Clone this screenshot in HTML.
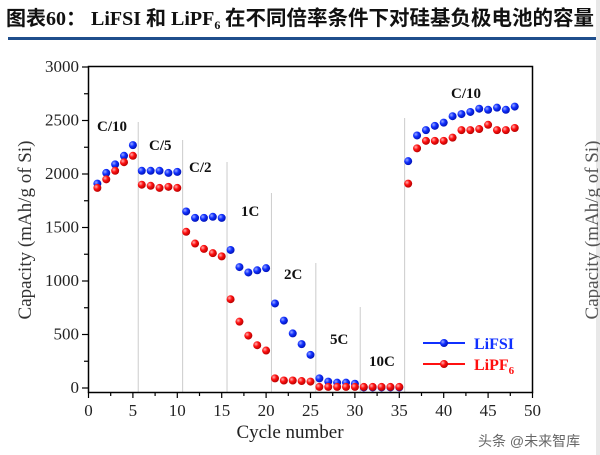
<!DOCTYPE html>
<html><head><meta charset="utf-8"><style>
html,body{margin:0;padding:0;background:#fff;width:600px;height:455px;overflow:hidden}
</style></head><body>
<svg id="s" width="600" height="455" viewBox="0 0 600 455" xmlns="http://www.w3.org/2000/svg" font-family="'Liberation Serif', serif">
<defs>
<radialGradient id="gb" cx="0.35" cy="0.35" r="0.7"><stop offset="0" stop-color="#9aa8ff"/><stop offset="0.45" stop-color="#1030ff"/><stop offset="1" stop-color="#0010b0"/></radialGradient>
<radialGradient id="gr" cx="0.35" cy="0.35" r="0.7"><stop offset="0" stop-color="#ffb0b0"/><stop offset="0.45" stop-color="#ff1010"/><stop offset="1" stop-color="#b00000"/></radialGradient>
</defs>
<text x="6" y="25" font-family="'Liberation Serif','Noto Sans CJK SC',sans-serif" font-size="20" font-weight="bold" fill="#111"><tspan font-family="'Noto Sans CJK SC',sans-serif" font-size="20">图表</tspan>60：  LiFSI 和 LiPF<tspan font-size="12" dy="4">6</tspan><tspan dy="-4" font-family="'Noto Sans CJK SC',sans-serif" font-size="20.5"> 在不同倍率条件下对硅基负极电池的容量</tspan></text>
<rect x="8" y="37" width="592" height="3" fill="#1f4e8c"/>
<rect x="596" y="0" width="4" height="455" fill="#e8e8e8"/>
<g id="plot"></g>
<rect x="88.5" y="66.5" width="444" height="326" fill="none" stroke="#000" stroke-width="1.5"/>
<g font-size="17" fill="#222" text-anchor="end" id="yl"></g>
<g font-size="17" fill="#222" text-anchor="middle" id="xl"></g>
<text x="290" y="438" font-size="19" text-anchor="middle" fill="#222">Cycle number</text>
<text transform="translate(31,230) rotate(-90)" font-size="19" text-anchor="middle" fill="#333">Capacity (mAh/g of Si)</text>
<text transform="translate(598,230) rotate(-90)" font-size="19" text-anchor="middle" fill="#555">Capacity (mAh/g of Si)</text>
<g font-size="15" font-weight="bold" fill="#111">
<text x="97" y="131">C/10</text><text x="149" y="150">C/5</text><text x="189" y="172">C/2</text>
<text x="241" y="216">1C</text><text x="284" y="279">2C</text><text x="330" y="344">5C</text>
<text x="369" y="366">10C</text><text x="451" y="98">C/10</text></g>
<line x1="423" y1="343" x2="465" y2="343" stroke="#1030ff" stroke-width="2"/>
<line x1="423" y1="364" x2="465" y2="364" stroke="#ff1010" stroke-width="2"/>
<circle cx="444" cy="343" r="4" fill="url(#gb)"/><circle cx="444" cy="364" r="4" fill="url(#gr)"/>
<text x="474" y="349" font-size="16" font-weight="bold" fill="#1030ff">LiFSI</text>
<text x="474" y="370" font-size="16" font-weight="bold" fill="#ff1010">LiPF<tspan font-size="11" dy="4">6</tspan></text>
<text x="478" y="446" font-family="'Liberation Sans','Noto Sans CJK SC',sans-serif" font-size="14" fill="#666">头条 @未来智库</text>
</svg>
<script>
const NS="http://www.w3.org/2000/svg";
const X=v=>88.5+v*8.88, Y=v=>388-v*0.107;
const p=document.getElementById('plot');
function el(t,a,par){const e=document.createElementNS(NS,t);for(const k in a)e.setAttribute(k,a[k]);(par||p).appendChild(e);return e;}
[[5.6,122],[10.6,140],[15.6,162],[20.6,193],[25.6,263],[30.6,307],[35.6,118]].forEach(([x,t])=>el('line',{x1:X(x),x2:X(x),y1:t,y2:392,stroke:'#ccc','stroke-width':1}));
for(let v=0;v<=3000;v+=250){const y=Y(v);el('line',{x1:88,x2:v%500?84:82,y1:y,y2:y,stroke:'#000','stroke-width':1.2});
 if(v%500==0){const t=el('text',{x:79,y:y+5},document.getElementById('yl'));t.textContent=v;}}
for(let v=0;v<=50;v+=2.5){const x=X(v);el('line',{x1:x,x2:x,y1:392,y2:v%5?396:398,stroke:'#000','stroke-width':1.2});
 if(v%5==0){const t=el('text',{x:x,y:416},document.getElementById('xl'));t.textContent=v;}}
const B=[1910,2010,2090,2170,2270,2030,2030,2030,2010,2020,1650,1590,1590,1600,1590,1290,1130,1080,1100,1120,790,630,510,410,310,90,60,50,50,40,5,5,5,5,5,2120,2360,2410,2450,2480,2540,2560,2580,2610,2600,2620,2600,2630];
const R=[1870,1950,2030,2110,2170,1900,1890,1870,1880,1870,1460,1350,1300,1260,1230,830,620,490,400,350,90,70,70,65,60,10,10,10,10,10,10,10,10,10,10,1910,2240,2310,2310,2310,2340,2410,2410,2420,2460,2410,2410,2430];
B.forEach((v,i)=>el('circle',{cx:X(i+1),cy:Y(v),r:4,fill:'url(#gb)'}));
R.forEach((v,i)=>el('circle',{cx:X(i+1),cy:Y(v),r:4,fill:'url(#gr)'}));
</script>
</body></html>
